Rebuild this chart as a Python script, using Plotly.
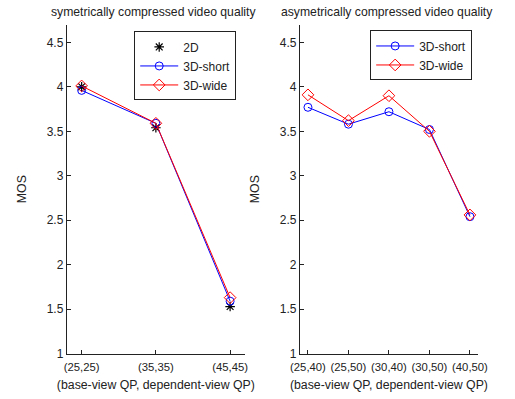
import plotly.graph_objects as go

# ---------- data ----------
sym_categories = ["(25,25)", "(35,35)", "(45,45)"]
sym_2d = [4.00, 3.54, 1.53]
sym_3d_short = [3.96, 3.59, 1.59]
sym_3d_wide = [4.01, 3.59, 1.63]

asym_categories = ["(25,40)", "(25,50)", "(30,40)", "(30,50)", "(40,50)"]
asym_3d_short = [3.77, 3.58, 3.72, 3.52, 2.54]
asym_3d_wide = [3.91, 3.62, 3.90, 3.50, 2.56]

y_ticks = [1, 1.5, 2, 2.5, 3, 3.5, 4, 4.5]
left_title = "symetrically compressed video quality"
right_title = "asymetrically compressed video quality"
x_title = "(base-view QP, dependent-view QP)"
y_title = "MOS"

FONT = "Liberation Sans, Arial, sans-serif"
BLUE = "#0000ff"
RED = "#ff0000"
XTICK_SIZE = 11.3
YTICK_SIZE = 12
LABEL_SIZE = 12.3
TITLE_SIZE = 12.2
LEGEND_SIZE = 12

fig = go.Figure()

# left panel
fig.add_trace(go.Scatter(x=sym_categories, y=sym_2d, mode="markers", name="2D",
                         marker=dict(symbol="asterisk-open", size=8, color="black",
                                     line=dict(color="black", width=1.2)),
                         xaxis="x", yaxis="y", legend="legend"))
fig.add_trace(go.Scatter(x=sym_categories, y=sym_3d_short, mode="lines+markers", name="3D-short",
                         line=dict(color=BLUE, width=1),
                         marker=dict(symbol="circle-open", size=8, color=BLUE, line=dict(width=1)),
                         xaxis="x", yaxis="y", legend="legend"))
fig.add_trace(go.Scatter(x=sym_categories, y=sym_3d_wide, mode="lines+markers", name="3D-wide",
                         line=dict(color=RED, width=1),
                         marker=dict(symbol="diamond-open", size=9, color=RED, line=dict(width=1)),
                         xaxis="x", yaxis="y", legend="legend"))

# right panel
fig.add_trace(go.Scatter(x=asym_categories, y=asym_3d_short, mode="lines+markers", name="3D-short",
                         line=dict(color=BLUE, width=1),
                         marker=dict(symbol="circle-open", size=8, color=BLUE, line=dict(width=1)),
                         xaxis="x2", yaxis="y2", legend="legend2"))
fig.add_trace(go.Scatter(x=asym_categories, y=asym_3d_wide, mode="lines+markers", name="3D-wide",
                         line=dict(color=RED, width=1),
                         marker=dict(symbol="diamond-open", size=9, color=RED, line=dict(width=1)),
                         xaxis="x2", yaxis="y2", legend="legend2"))

W, H = 515, 399
def xd(a, b):
    return [a / W, b / W]
ydom = [(H - 360) / H, (H - 25) / H]

base_axis = dict(showline=True, linecolor="#222", linewidth=1, ticks="inside",
                 ticklen=4, tickcolor="#222", showgrid=False, zeroline=False, mirror=False)
xaxis_common = dict(base_axis, tickfont=dict(family=FONT, size=XTICK_SIZE, color="#222"),
                    ticklabelstandoff=3,
                    title=dict(text=x_title, standoff=8, font=dict(size=LABEL_SIZE)))
yaxis_common = dict(base_axis, tickfont=dict(family=FONT, size=YTICK_SIZE, color="#222"),
                    range=[1, 4.7], tickvals=y_ticks,
                    title=dict(text=y_title, standoff=17, font=dict(size=LABEL_SIZE)))

fig.update_layout(
    width=W, height=H,
    margin=dict(l=0, r=0, t=0, b=0),
    paper_bgcolor="white", plot_bgcolor="white",
    font=dict(family=FONT, size=YTICK_SIZE, color="#222"),
    xaxis=dict(domain=xd(60, 245), anchor="y", type="category", range=[-0.2, 2.2], **xaxis_common),
    yaxis=dict(domain=ydom, anchor="x", **yaxis_common),
    xaxis2=dict(domain=xd(302, 487), anchor="y2", type="category", range=[-0.2, 4.2], **xaxis_common),
    yaxis2=dict(domain=ydom, anchor="x2", **yaxis_common),
    legend=dict(x=130 / W, y=(H - 32) / H, xanchor="left", yanchor="top",
                bgcolor="white", bordercolor="#222", borderwidth=1,
                font=dict(family=FONT, size=LEGEND_SIZE, color="#222"), itemwidth=38, tracegroupgap=0),
    legend2=dict(x=375 / W, y=(H - 31) / H, xanchor="left", yanchor="top",
                 bgcolor="white", bordercolor="#222", borderwidth=1,
                 font=dict(family=FONT, size=LEGEND_SIZE, color="#222"), itemwidth=38, tracegroupgap=0),
    annotations=[
        dict(text=left_title, x=150 / W, y=(H - 12) / H, xref="paper", yref="paper",
             showarrow=False, xanchor="center", yanchor="middle",
             font=dict(family=FONT, size=TITLE_SIZE, color="#222")),
        dict(text=right_title, x=392 / W, y=(H - 12) / H, xref="paper", yref="paper",
             showarrow=False, xanchor="center", yanchor="middle",
             font=dict(family=FONT, size=TITLE_SIZE, color="#222")),
    ],
)

fig.write_html("out.html", config={"displayModeBar": False},
               post_script="document.body.style.margin='0';")
